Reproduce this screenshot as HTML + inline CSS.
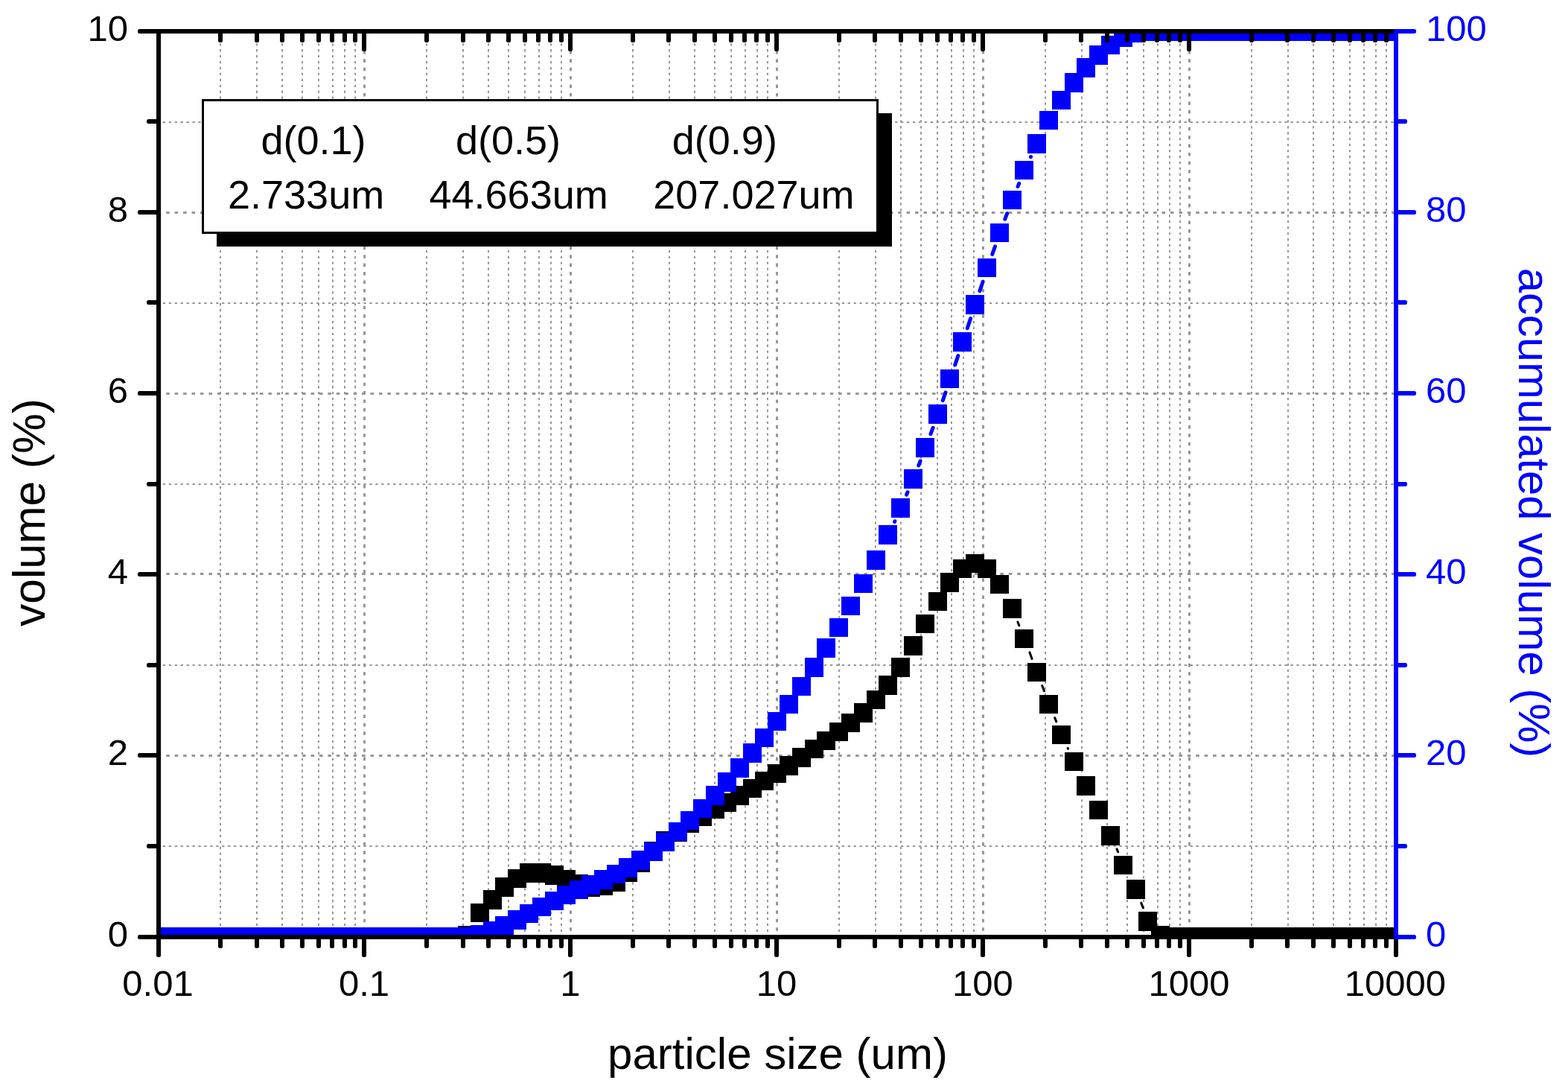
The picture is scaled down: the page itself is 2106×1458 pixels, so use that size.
<!DOCTYPE html>
<html lang="en"><head><meta charset="utf-8"><title>Particle size distribution</title>
<style>html,body{margin:0;padding:0;background:#fff}body{width:2106px;height:1458px;overflow:hidden}svg{display:block}text{font-family:"Liberation Sans",sans-serif}</style>
</head><body>
<svg width="2106" height="1458" viewBox="0 0 2106 1458">
<rect x="0" y="0" width="2106" height="1458" fill="#fff"/>
<defs><clipPath id="frame"><rect x="213.0" y="42.0" width="1662.0" height="1216.0"/></clipPath></defs>
<g stroke="#979797" fill="none">
<line x1="296" y1="42.3" x2="296" y2="1255.0" stroke-width="2" stroke-dasharray="3.3 4.63"/>
<line x1="345" y1="42.3" x2="345" y2="1255.0" stroke-width="2" stroke-dasharray="3.3 4.63"/>
<line x1="379" y1="42.3" x2="379" y2="1255.0" stroke-width="2" stroke-dasharray="3.3 4.63"/>
<line x1="406" y1="42.3" x2="406" y2="1255.0" stroke-width="2" stroke-dasharray="3.3 4.63"/>
<line x1="428" y1="42.3" x2="428" y2="1255.0" stroke-width="2" stroke-dasharray="3.3 4.63"/>
<line x1="447" y1="42.3" x2="447" y2="1255.0" stroke-width="2" stroke-dasharray="3.3 4.63"/>
<line x1="463" y1="42.3" x2="463" y2="1255.0" stroke-width="2" stroke-dasharray="3.3 4.63"/>
<line x1="477" y1="42.3" x2="477" y2="1255.0" stroke-width="2" stroke-dasharray="3.3 4.63"/>
<line x1="573" y1="42.3" x2="573" y2="1255.0" stroke-width="2" stroke-dasharray="3.3 4.63"/>
<line x1="622" y1="42.3" x2="622" y2="1255.0" stroke-width="2" stroke-dasharray="3.3 4.63"/>
<line x1="656" y1="42.3" x2="656" y2="1255.0" stroke-width="2" stroke-dasharray="3.3 4.63"/>
<line x1="683" y1="42.3" x2="683" y2="1255.0" stroke-width="2" stroke-dasharray="3.3 4.63"/>
<line x1="705" y1="42.3" x2="705" y2="1255.0" stroke-width="2" stroke-dasharray="3.3 4.63"/>
<line x1="724" y1="42.3" x2="724" y2="1255.0" stroke-width="2" stroke-dasharray="3.3 4.63"/>
<line x1="740" y1="42.3" x2="740" y2="1255.0" stroke-width="2" stroke-dasharray="3.3 4.63"/>
<line x1="754" y1="42.3" x2="754" y2="1255.0" stroke-width="2" stroke-dasharray="3.3 4.63"/>
<line x1="850" y1="42.3" x2="850" y2="1255.0" stroke-width="2" stroke-dasharray="3.3 4.63"/>
<line x1="899" y1="42.3" x2="899" y2="1255.0" stroke-width="2" stroke-dasharray="3.3 4.63"/>
<line x1="933" y1="42.3" x2="933" y2="1255.0" stroke-width="2" stroke-dasharray="3.3 4.63"/>
<line x1="960" y1="42.3" x2="960" y2="1255.0" stroke-width="2" stroke-dasharray="3.3 4.63"/>
<line x1="982" y1="42.3" x2="982" y2="1255.0" stroke-width="2" stroke-dasharray="3.3 4.63"/>
<line x1="1001" y1="42.3" x2="1001" y2="1255.0" stroke-width="2" stroke-dasharray="3.3 4.63"/>
<line x1="1017" y1="42.3" x2="1017" y2="1255.0" stroke-width="2" stroke-dasharray="3.3 4.63"/>
<line x1="1031" y1="42.3" x2="1031" y2="1255.0" stroke-width="2" stroke-dasharray="3.3 4.63"/>
<line x1="1127" y1="42.3" x2="1127" y2="1255.0" stroke-width="2" stroke-dasharray="3.3 4.63"/>
<line x1="1176" y1="42.3" x2="1176" y2="1255.0" stroke-width="2" stroke-dasharray="3.3 4.63"/>
<line x1="1210" y1="42.3" x2="1210" y2="1255.0" stroke-width="2" stroke-dasharray="3.3 4.63"/>
<line x1="1237" y1="42.3" x2="1237" y2="1255.0" stroke-width="2" stroke-dasharray="3.3 4.63"/>
<line x1="1259" y1="42.3" x2="1259" y2="1255.0" stroke-width="2" stroke-dasharray="3.3 4.63"/>
<line x1="1278" y1="42.3" x2="1278" y2="1255.0" stroke-width="2" stroke-dasharray="3.3 4.63"/>
<line x1="1294" y1="42.3" x2="1294" y2="1255.0" stroke-width="2" stroke-dasharray="3.3 4.63"/>
<line x1="1308" y1="42.3" x2="1308" y2="1255.0" stroke-width="2" stroke-dasharray="3.3 4.63"/>
<line x1="1404" y1="42.3" x2="1404" y2="1255.0" stroke-width="2" stroke-dasharray="3.3 4.63"/>
<line x1="1453" y1="42.3" x2="1453" y2="1255.0" stroke-width="2" stroke-dasharray="3.3 4.63"/>
<line x1="1487" y1="42.3" x2="1487" y2="1255.0" stroke-width="2" stroke-dasharray="3.3 4.63"/>
<line x1="1514" y1="42.3" x2="1514" y2="1255.0" stroke-width="2" stroke-dasharray="3.3 4.63"/>
<line x1="1536" y1="42.3" x2="1536" y2="1255.0" stroke-width="2" stroke-dasharray="3.3 4.63"/>
<line x1="1555" y1="42.3" x2="1555" y2="1255.0" stroke-width="2" stroke-dasharray="3.3 4.63"/>
<line x1="1571" y1="42.3" x2="1571" y2="1255.0" stroke-width="2" stroke-dasharray="3.3 4.63"/>
<line x1="1585" y1="42.3" x2="1585" y2="1255.0" stroke-width="2" stroke-dasharray="3.3 4.63"/>
<line x1="1681" y1="42.3" x2="1681" y2="1255.0" stroke-width="2" stroke-dasharray="3.3 4.63"/>
<line x1="1730" y1="42.3" x2="1730" y2="1255.0" stroke-width="2" stroke-dasharray="3.3 4.63"/>
<line x1="1764" y1="42.3" x2="1764" y2="1255.0" stroke-width="2" stroke-dasharray="3.3 4.63"/>
<line x1="1791" y1="42.3" x2="1791" y2="1255.0" stroke-width="2" stroke-dasharray="3.3 4.63"/>
<line x1="1813" y1="42.3" x2="1813" y2="1255.0" stroke-width="2" stroke-dasharray="3.3 4.63"/>
<line x1="1832" y1="42.3" x2="1832" y2="1255.0" stroke-width="2" stroke-dasharray="3.3 4.63"/>
<line x1="1848" y1="42.3" x2="1848" y2="1255.0" stroke-width="2" stroke-dasharray="3.3 4.63"/>
<line x1="1862" y1="42.3" x2="1862" y2="1255.0" stroke-width="2" stroke-dasharray="3.3 4.63"/>
<line x1="489.5" y1="45.0" x2="489.5" y2="1255.0" stroke-width="3" stroke-dasharray="4.6 6.83"/>
<line x1="766.5" y1="45.0" x2="766.5" y2="1255.0" stroke-width="3" stroke-dasharray="4.6 6.83"/>
<line x1="1043.5" y1="45.0" x2="1043.5" y2="1255.0" stroke-width="3" stroke-dasharray="4.6 6.83"/>
<line x1="1320.5" y1="45.0" x2="1320.5" y2="1255.0" stroke-width="3" stroke-dasharray="4.6 6.83"/>
<line x1="1597.5" y1="45.0" x2="1597.5" y2="1255.0" stroke-width="3" stroke-dasharray="4.6 6.83"/>
<line x1="218.8" y1="1136" x2="1872.0" y2="1136" stroke-width="2" stroke-dasharray="3.3 4.63"/>
<line x1="223.2" y1="1014.5" x2="1872.0" y2="1014.5" stroke-width="3" stroke-dasharray="4.6 6.83"/>
<line x1="218.8" y1="893" x2="1872.0" y2="893" stroke-width="2" stroke-dasharray="3.3 4.63"/>
<line x1="223.2" y1="770.5" x2="1872.0" y2="770.5" stroke-width="3" stroke-dasharray="4.6 6.83"/>
<line x1="218.8" y1="650" x2="1872.0" y2="650" stroke-width="2" stroke-dasharray="3.3 4.63"/>
<line x1="223.2" y1="528.5" x2="1872.0" y2="528.5" stroke-width="3" stroke-dasharray="4.6 6.83"/>
<line x1="218.8" y1="407" x2="1872.0" y2="407" stroke-width="2" stroke-dasharray="3.3 4.63"/>
<line x1="223.2" y1="285.5" x2="1872.0" y2="285.5" stroke-width="3" stroke-dasharray="4.6 6.83"/>
<line x1="218.8" y1="164" x2="1872.0" y2="164" stroke-width="2" stroke-dasharray="3.3 4.63"/>
</g>
<g clip-path="url(#frame)">
<g stroke="#000000" stroke-width="3" stroke-linecap="round" fill="none">
<line x1="1366.86" y1="834.94" x2="1368.87" y2="839.83"/>
<line x1="1382.88" y1="875.79" x2="1386.09" y2="884.46"/>
<line x1="1399.73" y1="920.57" x2="1402.48" y2="927.72"/>
<line x1="1416.66" y1="963.62" x2="1418.78" y2="968.83"/>
<line x1="1434.10" y1="1004.24" x2="1434.58" y2="1005.29"/>
<line x1="1499.98" y1="1139.84" x2="1501.64" y2="1143.78"/>
<line x1="1532.72" y1="1212.15" x2="1535.37" y2="1218.97"/>
</g>
<g fill="#000000" shape-rendering="crispEdges">
<rect x="200" y="1245" width="25" height="26"/>
<rect x="216" y="1245" width="25" height="26"/>
<rect x="233" y="1245" width="25" height="26"/>
<rect x="250" y="1245" width="25" height="26"/>
<rect x="266" y="1245" width="25" height="26"/>
<rect x="283" y="1245" width="25" height="26"/>
<rect x="300" y="1245" width="25" height="26"/>
<rect x="316" y="1245" width="25" height="26"/>
<rect x="333" y="1245" width="25" height="26"/>
<rect x="349" y="1245" width="25" height="26"/>
<rect x="366" y="1245" width="25" height="26"/>
<rect x="383" y="1245" width="25" height="26"/>
<rect x="399" y="1245" width="25" height="26"/>
<rect x="416" y="1245" width="25" height="26"/>
<rect x="433" y="1245" width="25" height="26"/>
<rect x="449" y="1245" width="25" height="26"/>
<rect x="466" y="1245" width="25" height="26"/>
<rect x="482" y="1245" width="25" height="26"/>
<rect x="499" y="1245" width="25" height="26"/>
<rect x="516" y="1245" width="25" height="26"/>
<rect x="532" y="1245" width="25" height="26"/>
<rect x="549" y="1245" width="25" height="26"/>
<rect x="565" y="1245" width="25" height="26"/>
<rect x="582" y="1245" width="25" height="26"/>
<rect x="599" y="1245" width="25" height="26"/>
<rect x="615" y="1243" width="25" height="25"/>
<rect x="632" y="1213" width="25" height="25"/>
<rect x="649" y="1195" width="25" height="26"/>
<rect x="665" y="1178" width="25" height="26"/>
<rect x="682" y="1167" width="25" height="25"/>
<rect x="698" y="1159" width="25" height="26"/>
<rect x="715" y="1159" width="25" height="26"/>
<rect x="732" y="1162" width="25" height="26"/>
<rect x="748" y="1168" width="25" height="25"/>
<rect x="765" y="1174" width="25" height="25"/>
<rect x="781" y="1178" width="25" height="26"/>
<rect x="798" y="1177" width="25" height="25"/>
<rect x="815" y="1172" width="25" height="25"/>
<rect x="831" y="1158" width="25" height="26"/>
<rect x="848" y="1145" width="25" height="26"/>
<rect x="865" y="1130" width="25" height="26"/>
<rect x="881" y="1116" width="25" height="26"/>
<rect x="898" y="1104" width="25" height="26"/>
<rect x="914" y="1092" width="25" height="26"/>
<rect x="931" y="1083" width="25" height="26"/>
<rect x="948" y="1073" width="25" height="26"/>
<rect x="964" y="1065" width="25" height="25"/>
<rect x="981" y="1055" width="25" height="26"/>
<rect x="998" y="1046" width="25" height="25"/>
<rect x="1014" y="1036" width="25" height="25"/>
<rect x="1031" y="1026" width="25" height="25"/>
<rect x="1047" y="1015" width="25" height="26"/>
<rect x="1064" y="1004" width="25" height="26"/>
<rect x="1081" y="993" width="25" height="25"/>
<rect x="1097" y="982" width="25" height="25"/>
<rect x="1114" y="970" width="25" height="25"/>
<rect x="1130" y="958" width="25" height="25"/>
<rect x="1147" y="944" width="25" height="26"/>
<rect x="1164" y="927" width="25" height="25"/>
<rect x="1180" y="907" width="25" height="26"/>
<rect x="1197" y="883" width="25" height="26"/>
<rect x="1214" y="854" width="25" height="26"/>
<rect x="1230" y="825" width="25" height="25"/>
<rect x="1247" y="795" width="25" height="25"/>
<rect x="1263" y="769" width="25" height="26"/>
<rect x="1280" y="751" width="25" height="25"/>
<rect x="1297" y="744" width="25" height="25"/>
<rect x="1313" y="751" width="25" height="25"/>
<rect x="1330" y="772" width="25" height="25"/>
<rect x="1347" y="804" width="25" height="26"/>
<rect x="1363" y="845" width="25" height="25"/>
<rect x="1380" y="890" width="25" height="25"/>
<rect x="1396" y="933" width="25" height="25"/>
<rect x="1413" y="974" width="25" height="25"/>
<rect x="1430" y="1010" width="25" height="25"/>
<rect x="1446" y="1042" width="25" height="26"/>
<rect x="1463" y="1075" width="25" height="25"/>
<rect x="1479" y="1109" width="25" height="26"/>
<rect x="1496" y="1149" width="25" height="25"/>
<rect x="1513" y="1181" width="25" height="26"/>
<rect x="1529" y="1224" width="25" height="26"/>
<rect x="1546" y="1243" width="25" height="25"/>
<rect x="1563" y="1245" width="25" height="26"/>
<rect x="1579" y="1245" width="25" height="26"/>
<rect x="1596" y="1245" width="25" height="26"/>
<rect x="1612" y="1245" width="25" height="26"/>
<rect x="1629" y="1245" width="25" height="26"/>
<rect x="1646" y="1245" width="25" height="26"/>
<rect x="1662" y="1245" width="25" height="26"/>
<rect x="1679" y="1245" width="25" height="26"/>
<rect x="1695" y="1245" width="25" height="26"/>
<rect x="1712" y="1245" width="25" height="26"/>
<rect x="1729" y="1245" width="25" height="26"/>
<rect x="1745" y="1245" width="25" height="26"/>
<rect x="1762" y="1245" width="25" height="26"/>
<rect x="1779" y="1245" width="25" height="26"/>
<rect x="1795" y="1245" width="25" height="26"/>
<rect x="1812" y="1245" width="25" height="26"/>
<rect x="1828" y="1245" width="25" height="26"/>
<rect x="1845" y="1245" width="25" height="26"/>
<rect x="1862" y="1245" width="25" height="26"/>
</g></g>
<g clip-path="url(#frame)">
<g stroke="#0000ff" stroke-width="5" stroke-linecap="round" fill="none">
<line x1="1201.52" y1="700.46" x2="1201.85" y2="699.74"/>
<line x1="1217.63" y1="664.08" x2="1218.97" y2="660.92"/>
<line x1="1233.79" y1="624.85" x2="1236.05" y2="619.13"/>
<line x1="1249.99" y1="582.71" x2="1253.09" y2="574.32"/>
<line x1="1266.28" y1="537.62" x2="1270.03" y2="526.91"/>
<line x1="1282.69" y1="490.02" x2="1286.86" y2="477.62"/>
<line x1="1299.23" y1="440.63" x2="1303.56" y2="427.59"/>
<line x1="1315.92" y1="390.60" x2="1320.10" y2="378.19"/>
<line x1="1332.79" y1="341.31" x2="1336.47" y2="330.83"/>
<line x1="1349.82" y1="294.19" x2="1352.67" y2="286.64"/>
<line x1="1367.04" y1="250.39" x2="1368.69" y2="246.42"/>
<line x1="1384.44" y1="210.76" x2="1384.52" y2="210.58"/>
</g>
<g fill="#0000ff" shape-rendering="crispEdges">
<rect x="200" y="1245" width="25" height="26"/>
<rect x="216" y="1245" width="25" height="26"/>
<rect x="233" y="1245" width="25" height="26"/>
<rect x="250" y="1245" width="25" height="26"/>
<rect x="266" y="1245" width="25" height="26"/>
<rect x="283" y="1245" width="25" height="26"/>
<rect x="300" y="1245" width="25" height="26"/>
<rect x="316" y="1245" width="25" height="26"/>
<rect x="333" y="1245" width="25" height="26"/>
<rect x="349" y="1245" width="25" height="26"/>
<rect x="366" y="1245" width="25" height="26"/>
<rect x="383" y="1245" width="25" height="26"/>
<rect x="399" y="1245" width="25" height="26"/>
<rect x="416" y="1245" width="25" height="26"/>
<rect x="433" y="1245" width="25" height="26"/>
<rect x="449" y="1245" width="25" height="26"/>
<rect x="466" y="1245" width="25" height="26"/>
<rect x="482" y="1245" width="25" height="26"/>
<rect x="499" y="1245" width="25" height="26"/>
<rect x="516" y="1245" width="25" height="26"/>
<rect x="532" y="1245" width="25" height="26"/>
<rect x="549" y="1245" width="25" height="26"/>
<rect x="565" y="1245" width="25" height="26"/>
<rect x="582" y="1245" width="25" height="26"/>
<rect x="599" y="1245" width="25" height="26"/>
<rect x="615" y="1245" width="25" height="25"/>
<rect x="632" y="1242" width="25" height="25"/>
<rect x="649" y="1237" width="25" height="25"/>
<rect x="665" y="1230" width="25" height="25"/>
<rect x="682" y="1222" width="25" height="26"/>
<rect x="698" y="1214" width="25" height="25"/>
<rect x="715" y="1205" width="25" height="25"/>
<rect x="732" y="1197" width="25" height="25"/>
<rect x="748" y="1189" width="25" height="25"/>
<rect x="765" y="1182" width="25" height="25"/>
<rect x="781" y="1175" width="25" height="26"/>
<rect x="798" y="1168" width="25" height="26"/>
<rect x="815" y="1161" width="25" height="25"/>
<rect x="831" y="1152" width="25" height="26"/>
<rect x="848" y="1142" width="25" height="26"/>
<rect x="865" y="1131" width="25" height="25"/>
<rect x="881" y="1118" width="25" height="25"/>
<rect x="898" y="1104" width="25" height="25"/>
<rect x="914" y="1089" width="25" height="25"/>
<rect x="931" y="1073" width="25" height="25"/>
<rect x="948" y="1055" width="25" height="26"/>
<rect x="964" y="1037" width="25" height="26"/>
<rect x="981" y="1018" width="25" height="26"/>
<rect x="998" y="998" width="25" height="26"/>
<rect x="1014" y="978" width="25" height="25"/>
<rect x="1031" y="956" width="25" height="25"/>
<rect x="1047" y="933" width="25" height="25"/>
<rect x="1064" y="909" width="25" height="25"/>
<rect x="1081" y="883" width="25" height="26"/>
<rect x="1097" y="857" width="25" height="26"/>
<rect x="1114" y="830" width="25" height="25"/>
<rect x="1130" y="801" width="25" height="25"/>
<rect x="1147" y="771" width="25" height="25"/>
<rect x="1164" y="739" width="25" height="26"/>
<rect x="1180" y="705" width="25" height="26"/>
<rect x="1197" y="669" width="25" height="26"/>
<rect x="1214" y="630" width="25" height="26"/>
<rect x="1230" y="588" width="25" height="26"/>
<rect x="1247" y="543" width="25" height="26"/>
<rect x="1263" y="496" width="25" height="25"/>
<rect x="1280" y="446" width="25" height="26"/>
<rect x="1297" y="396" width="25" height="26"/>
<rect x="1313" y="347" width="25" height="25"/>
<rect x="1330" y="300" width="25" height="25"/>
<rect x="1347" y="256" width="25" height="25"/>
<rect x="1363" y="216" width="25" height="25"/>
<rect x="1380" y="180" width="25" height="26"/>
<rect x="1396" y="149" width="25" height="25"/>
<rect x="1413" y="122" width="25" height="25"/>
<rect x="1430" y="98" width="25" height="26"/>
<rect x="1446" y="78" width="25" height="26"/>
<rect x="1463" y="61" width="25" height="26"/>
<rect x="1479" y="48" width="25" height="25"/>
<rect x="1496" y="38" width="25" height="25"/>
<rect x="1513" y="32" width="25" height="25"/>
<rect x="1529" y="29" width="25" height="26"/>
<rect x="1546" y="29" width="25" height="26"/>
<rect x="1563" y="29" width="25" height="26"/>
<rect x="1579" y="29" width="25" height="26"/>
<rect x="1596" y="29" width="25" height="26"/>
<rect x="1612" y="29" width="25" height="26"/>
<rect x="1629" y="29" width="25" height="26"/>
<rect x="1646" y="29" width="25" height="26"/>
<rect x="1662" y="29" width="25" height="26"/>
<rect x="1679" y="29" width="25" height="26"/>
<rect x="1695" y="29" width="25" height="26"/>
<rect x="1712" y="29" width="25" height="26"/>
<rect x="1729" y="29" width="25" height="26"/>
<rect x="1745" y="29" width="25" height="26"/>
<rect x="1762" y="29" width="25" height="26"/>
<rect x="1779" y="29" width="25" height="26"/>
<rect x="1795" y="29" width="25" height="26"/>
<rect x="1812" y="29" width="25" height="26"/>
<rect x="1828" y="29" width="25" height="26"/>
<rect x="1845" y="29" width="25" height="26"/>
<rect x="1862" y="29" width="25" height="26"/>
</g></g>
<rect x="185.0" y="1255" width="28.0" height="6" rx="2.5" fill="#000"/>
<rect x="197.0" y="1133" width="16.0" height="6" rx="2.5" fill="#000"/>
<rect x="185.0" y="1011" width="28.0" height="6" rx="2.5" fill="#000"/>
<rect x="197.0" y="890" width="16.0" height="6" rx="2.5" fill="#000"/>
<rect x="185.0" y="768" width="28.0" height="6" rx="2.5" fill="#000"/>
<rect x="197.0" y="647" width="16.0" height="6" rx="2.5" fill="#000"/>
<rect x="185.0" y="525" width="28.0" height="6" rx="2.5" fill="#000"/>
<rect x="197.0" y="403" width="16.0" height="6" rx="2.5" fill="#000"/>
<rect x="185.0" y="282" width="28.0" height="6" rx="2.5" fill="#000"/>
<rect x="197.0" y="160" width="16.0" height="6" rx="2.5" fill="#000"/>
<rect x="185.0" y="39" width="28.0" height="6" rx="2.5" fill="#000"/>
<rect x="210" y="1258.0" width="6" height="27.0" rx="2.5" fill="#000"/>
<rect x="293" y="1258.0" width="6" height="15.0" rx="2.5" fill="#000"/>
<rect x="293" y="42.0" width="6" height="15.0" rx="2.5" fill="#000"/>
<rect x="342" y="1258.0" width="6" height="15.0" rx="2.5" fill="#000"/>
<rect x="342" y="42.0" width="6" height="15.0" rx="2.5" fill="#000"/>
<rect x="376" y="1258.0" width="6" height="15.0" rx="2.5" fill="#000"/>
<rect x="376" y="42.0" width="6" height="15.0" rx="2.5" fill="#000"/>
<rect x="403" y="1258.0" width="6" height="15.0" rx="2.5" fill="#000"/>
<rect x="403" y="42.0" width="6" height="15.0" rx="2.5" fill="#000"/>
<rect x="425" y="1258.0" width="6" height="15.0" rx="2.5" fill="#000"/>
<rect x="425" y="42.0" width="6" height="15.0" rx="2.5" fill="#000"/>
<rect x="443" y="1258.0" width="6" height="15.0" rx="2.5" fill="#000"/>
<rect x="443" y="42.0" width="6" height="15.0" rx="2.5" fill="#000"/>
<rect x="460" y="1258.0" width="6" height="15.0" rx="2.5" fill="#000"/>
<rect x="460" y="42.0" width="6" height="15.0" rx="2.5" fill="#000"/>
<rect x="474" y="1258.0" width="6" height="15.0" rx="2.5" fill="#000"/>
<rect x="474" y="42.0" width="6" height="15.0" rx="2.5" fill="#000"/>
<rect x="486" y="1258.0" width="6" height="27.0" rx="2.5" fill="#000"/>
<rect x="486" y="42.0" width="6" height="27.0" rx="2.5" fill="#000"/>
<rect x="570" y="1258.0" width="6" height="15.0" rx="2.5" fill="#000"/>
<rect x="570" y="42.0" width="6" height="15.0" rx="2.5" fill="#000"/>
<rect x="619" y="1258.0" width="6" height="15.0" rx="2.5" fill="#000"/>
<rect x="619" y="42.0" width="6" height="15.0" rx="2.5" fill="#000"/>
<rect x="653" y="1258.0" width="6" height="15.0" rx="2.5" fill="#000"/>
<rect x="653" y="42.0" width="6" height="15.0" rx="2.5" fill="#000"/>
<rect x="680" y="1258.0" width="6" height="15.0" rx="2.5" fill="#000"/>
<rect x="680" y="42.0" width="6" height="15.0" rx="2.5" fill="#000"/>
<rect x="702" y="1258.0" width="6" height="15.0" rx="2.5" fill="#000"/>
<rect x="702" y="42.0" width="6" height="15.0" rx="2.5" fill="#000"/>
<rect x="720" y="1258.0" width="6" height="15.0" rx="2.5" fill="#000"/>
<rect x="720" y="42.0" width="6" height="15.0" rx="2.5" fill="#000"/>
<rect x="736" y="1258.0" width="6" height="15.0" rx="2.5" fill="#000"/>
<rect x="736" y="42.0" width="6" height="15.0" rx="2.5" fill="#000"/>
<rect x="751" y="1258.0" width="6" height="15.0" rx="2.5" fill="#000"/>
<rect x="751" y="42.0" width="6" height="15.0" rx="2.5" fill="#000"/>
<rect x="763" y="1258.0" width="6" height="27.0" rx="2.5" fill="#000"/>
<rect x="763" y="42.0" width="6" height="27.0" rx="2.5" fill="#000"/>
<rect x="847" y="1258.0" width="6" height="15.0" rx="2.5" fill="#000"/>
<rect x="847" y="42.0" width="6" height="15.0" rx="2.5" fill="#000"/>
<rect x="895" y="1258.0" width="6" height="15.0" rx="2.5" fill="#000"/>
<rect x="895" y="42.0" width="6" height="15.0" rx="2.5" fill="#000"/>
<rect x="930" y="1258.0" width="6" height="15.0" rx="2.5" fill="#000"/>
<rect x="930" y="42.0" width="6" height="15.0" rx="2.5" fill="#000"/>
<rect x="957" y="1258.0" width="6" height="15.0" rx="2.5" fill="#000"/>
<rect x="957" y="42.0" width="6" height="15.0" rx="2.5" fill="#000"/>
<rect x="979" y="1258.0" width="6" height="15.0" rx="2.5" fill="#000"/>
<rect x="979" y="42.0" width="6" height="15.0" rx="2.5" fill="#000"/>
<rect x="997" y="1258.0" width="6" height="15.0" rx="2.5" fill="#000"/>
<rect x="997" y="42.0" width="6" height="15.0" rx="2.5" fill="#000"/>
<rect x="1013" y="1258.0" width="6" height="15.0" rx="2.5" fill="#000"/>
<rect x="1013" y="42.0" width="6" height="15.0" rx="2.5" fill="#000"/>
<rect x="1028" y="1258.0" width="6" height="15.0" rx="2.5" fill="#000"/>
<rect x="1028" y="42.0" width="6" height="15.0" rx="2.5" fill="#000"/>
<rect x="1040" y="1258.0" width="6" height="27.0" rx="2.5" fill="#000"/>
<rect x="1040" y="42.0" width="6" height="27.0" rx="2.5" fill="#000"/>
<rect x="1124" y="1258.0" width="6" height="15.0" rx="2.5" fill="#000"/>
<rect x="1124" y="42.0" width="6" height="15.0" rx="2.5" fill="#000"/>
<rect x="1172" y="1258.0" width="6" height="15.0" rx="2.5" fill="#000"/>
<rect x="1172" y="42.0" width="6" height="15.0" rx="2.5" fill="#000"/>
<rect x="1207" y="1258.0" width="6" height="15.0" rx="2.5" fill="#000"/>
<rect x="1207" y="42.0" width="6" height="15.0" rx="2.5" fill="#000"/>
<rect x="1234" y="1258.0" width="6" height="15.0" rx="2.5" fill="#000"/>
<rect x="1234" y="42.0" width="6" height="15.0" rx="2.5" fill="#000"/>
<rect x="1256" y="1258.0" width="6" height="15.0" rx="2.5" fill="#000"/>
<rect x="1256" y="42.0" width="6" height="15.0" rx="2.5" fill="#000"/>
<rect x="1274" y="1258.0" width="6" height="15.0" rx="2.5" fill="#000"/>
<rect x="1274" y="42.0" width="6" height="15.0" rx="2.5" fill="#000"/>
<rect x="1290" y="1258.0" width="6" height="15.0" rx="2.5" fill="#000"/>
<rect x="1290" y="42.0" width="6" height="15.0" rx="2.5" fill="#000"/>
<rect x="1305" y="1258.0" width="6" height="15.0" rx="2.5" fill="#000"/>
<rect x="1305" y="42.0" width="6" height="15.0" rx="2.5" fill="#000"/>
<rect x="1317" y="1258.0" width="6" height="27.0" rx="2.5" fill="#000"/>
<rect x="1317" y="42.0" width="6" height="27.0" rx="2.5" fill="#000"/>
<rect x="1401" y="1258.0" width="6" height="15.0" rx="2.5" fill="#000"/>
<rect x="1401" y="42.0" width="6" height="15.0" rx="2.5" fill="#000"/>
<rect x="1449" y="1258.0" width="6" height="15.0" rx="2.5" fill="#000"/>
<rect x="1449" y="42.0" width="6" height="15.0" rx="2.5" fill="#000"/>
<rect x="1484" y="1258.0" width="6" height="15.0" rx="2.5" fill="#000"/>
<rect x="1484" y="42.0" width="6" height="15.0" rx="2.5" fill="#000"/>
<rect x="1511" y="1258.0" width="6" height="15.0" rx="2.5" fill="#000"/>
<rect x="1511" y="42.0" width="6" height="15.0" rx="2.5" fill="#000"/>
<rect x="1533" y="1258.0" width="6" height="15.0" rx="2.5" fill="#000"/>
<rect x="1533" y="42.0" width="6" height="15.0" rx="2.5" fill="#000"/>
<rect x="1551" y="1258.0" width="6" height="15.0" rx="2.5" fill="#000"/>
<rect x="1551" y="42.0" width="6" height="15.0" rx="2.5" fill="#000"/>
<rect x="1567" y="1258.0" width="6" height="15.0" rx="2.5" fill="#000"/>
<rect x="1567" y="42.0" width="6" height="15.0" rx="2.5" fill="#000"/>
<rect x="1582" y="1258.0" width="6" height="15.0" rx="2.5" fill="#000"/>
<rect x="1582" y="42.0" width="6" height="15.0" rx="2.5" fill="#000"/>
<rect x="1594" y="1258.0" width="6" height="27.0" rx="2.5" fill="#000"/>
<rect x="1594" y="42.0" width="6" height="27.0" rx="2.5" fill="#000"/>
<rect x="1678" y="1258.0" width="6" height="15.0" rx="2.5" fill="#000"/>
<rect x="1678" y="42.0" width="6" height="15.0" rx="2.5" fill="#000"/>
<rect x="1726" y="1258.0" width="6" height="15.0" rx="2.5" fill="#000"/>
<rect x="1726" y="42.0" width="6" height="15.0" rx="2.5" fill="#000"/>
<rect x="1761" y="1258.0" width="6" height="15.0" rx="2.5" fill="#000"/>
<rect x="1761" y="42.0" width="6" height="15.0" rx="2.5" fill="#000"/>
<rect x="1788" y="1258.0" width="6" height="15.0" rx="2.5" fill="#000"/>
<rect x="1788" y="42.0" width="6" height="15.0" rx="2.5" fill="#000"/>
<rect x="1810" y="1258.0" width="6" height="15.0" rx="2.5" fill="#000"/>
<rect x="1810" y="42.0" width="6" height="15.0" rx="2.5" fill="#000"/>
<rect x="1828" y="1258.0" width="6" height="15.0" rx="2.5" fill="#000"/>
<rect x="1828" y="42.0" width="6" height="15.0" rx="2.5" fill="#000"/>
<rect x="1844" y="1258.0" width="6" height="15.0" rx="2.5" fill="#000"/>
<rect x="1844" y="42.0" width="6" height="15.0" rx="2.5" fill="#000"/>
<rect x="1859" y="1258.0" width="6" height="15.0" rx="2.5" fill="#000"/>
<rect x="1859" y="42.0" width="6" height="15.0" rx="2.5" fill="#000"/>
<rect x="1872" y="1258.0" width="6" height="27.0" rx="2.5" fill="#000"/>
<g shape-rendering="crispEdges">
<rect x="210.0" y="39.0" width="6" height="1222.0" fill="#000"/>
<rect x="210.0" y="1255.0" width="1668.0" height="6" fill="#000"/>
<rect x="210.0" y="39.0" width="1668.0" height="6" fill="#000"/>
<rect x="1872.0" y="39.0" width="6" height="1222.0" fill="#0000ff"/>
</g>
<rect x="1875.0" y="1255" width="27.0" height="6" rx="2.5" fill="#0000ff"/>
<rect x="1875.0" y="1133" width="15.0" height="6" rx="2.5" fill="#0000ff"/>
<rect x="1875.0" y="1011" width="27.0" height="6" rx="2.5" fill="#0000ff"/>
<rect x="1875.0" y="890" width="15.0" height="6" rx="2.5" fill="#0000ff"/>
<rect x="1875.0" y="768" width="27.0" height="6" rx="2.5" fill="#0000ff"/>
<rect x="1875.0" y="647" width="15.0" height="6" rx="2.5" fill="#0000ff"/>
<rect x="1875.0" y="525" width="27.0" height="6" rx="2.5" fill="#0000ff"/>
<rect x="1875.0" y="403" width="15.0" height="6" rx="2.5" fill="#0000ff"/>
<rect x="1875.0" y="282" width="27.0" height="6" rx="2.5" fill="#0000ff"/>
<rect x="1875.0" y="160" width="15.0" height="6" rx="2.5" fill="#0000ff"/>
<rect x="1875.0" y="39" width="27.0" height="6" rx="2.5" fill="#0000ff"/>
<g font-size="49px" fill="#000" text-anchor="end">
<text x="172" y="1271">0</text>
<text x="172" y="1027">2</text>
<text x="172" y="784">4</text>
<text x="172" y="541">6</text>
<text x="172" y="298">8</text>
<text x="172" y="55">10</text>
</g>
<g font-size="49px" fill="#0000ff" text-anchor="start">
<text x="1915" y="1271">0</text>
<text x="1915" y="1027">20</text>
<text x="1915" y="784">40</text>
<text x="1915" y="541">60</text>
<text x="1915" y="298">80</text>
<text x="1915" y="55">100</text>
</g>
<g font-size="49px" fill="#000" text-anchor="middle">
<text x="212" y="1337">0.01</text>
<text x="489" y="1337">0.1</text>
<text x="766" y="1337">1</text>
<text x="1043" y="1337">10</text>
<text x="1320" y="1337">100</text>
<text x="1597" y="1337">1000</text>
<text x="1874" y="1337">10000</text>
</g>
<text x="1044.5" y="1435" font-size="60px" text-anchor="middle" fill="#000">particle size (um)</text>
<text transform="translate(59.5 688) rotate(-90)" font-size="60.5px" text-anchor="middle" fill="#000">volume (%)</text>
<text transform="translate(2040 688.5) rotate(90)" font-size="59.75px" text-anchor="middle" fill="#0000ff">accumulated volume (%)</text>
<g shape-rendering="crispEdges">
<rect x="291" y="152" width="907" height="179" fill="#000"/>
<rect x="272.5" y="134.5" width="906" height="178" fill="#fff" stroke="#000" stroke-width="3"/>
</g>
<g font-size="54px" fill="#000">
<text x="350.5" y="207.3">d(0.1)</text>
<text x="612" y="207.3">d(0.5)</text>
<text x="902.8" y="207.3">d(0.9)</text>
<text x="306" y="280.4">2.733um</text>
<text x="576.5" y="280.4">44.663um</text>
<text x="877.3" y="280.4">207.027um</text>
</g>
</svg></body></html>
